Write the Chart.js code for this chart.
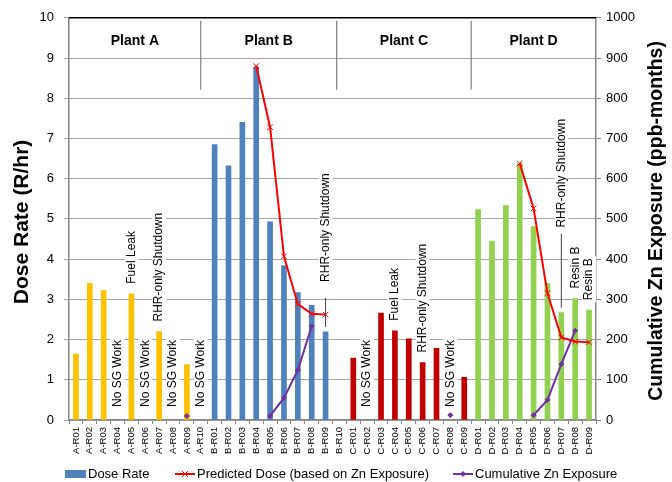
<!DOCTYPE html>
<html>
<head>
<meta charset="utf-8">
<script src="https://cdn.jsdelivr.net/npm/chart.js@4.4.1/dist/chart.umd.min.js"></script>
<style>
  html, body { margin: 0; padding: 0; background: #fff; }
  #wrap { width: 672px; height: 482px; position: relative; }
</style>
</head>
<body>
<div id="wrap"><canvas id="chart"></canvas></div>
<script>
// 類別（各電廠的換料週期）
const categories = [
    'A-R01', 'A-R02', 'A-R03', 'A-R04', 'A-R05', 'A-R06', 'A-R07', 'A-R08', 'A-R09', 'A-R10',
    'B-R01', 'B-R02', 'B-R03', 'B-R04', 'B-R05', 'B-R06', 'B-R07', 'B-R08', 'B-R09', 'B-R10',
    'C-R01', 'C-R02', 'C-R03', 'C-R04', 'C-R05', 'C-R06', 'C-R07', 'C-R08', 'C-R09',
    'D-R01', 'D-R02', 'D-R03', 'D-R04', 'D-R05', 'D-R06', 'D-R07', 'D-R08', 'D-R09'
];

// 劑量率 (R/hr)
const doseRate = [
    1.64, 3.40, 3.22, null, 3.14, null, 2.20, null, 1.38, null,
    6.85, 6.32, 7.40, 8.78, 4.93, 3.84, 3.17, 2.85, 2.19, null,
    1.54, null, 2.66, 2.22, 2.02, 1.43, 1.78, null, 1.06,
    5.23, 4.45, 5.33, 6.38, 4.81, 3.40, 2.67, 3.02, 2.73
];

// 預測劑量 (R/hr)
const predictedDose = [
    null, null, null, null, null, null, null, null, null, null,
    null, null, null, 8.80, 7.28, 4.07, 2.88, 2.64, 2.62, null,
    null, null, null, null, null, null, null, null, null,
    null, null, null, 6.38, 5.26, 3.15, 2.05, 1.95, 1.93
];

// 累計鋅暴露 (ppb-months)
const cumulativeZn = [
    null, null, null, null, null, null, null, null, 10, null,
    null, null, null, null, 10, 55, 124, 233, null, null,
    null, null, null, null, null, null, null, 12, null,
    null, null, null, null, 12, 50, 139, 222, null
];

const plantNames = ['Plant A', 'Plant B', 'Plant C', 'Plant D'];

// 註記文字
const annotations = [
    ['A-R04', 'No SG Work'],
    ['A-R05', 'Fuel Leak'],
    ['A-R06', 'No SG Work'],
    ['A-R07', 'RHR-only Shutdown'],
    ['A-R08', 'No SG Work'],
    ['A-R10', 'No SG Work'],
    ['B-R09', 'RHR-only Shutdown'],
    ['C-R02', 'No SG Work'],
    ['C-R04', 'Fuel Leak'],
    ['C-R06', 'RHR-only Shutdown'],
    ['C-R08', 'No SG Work'],
    ['D-R07', 'RHR-only Shutdown'],
    ['D-R08', 'Resin B'],
    ['D-R09', 'Resin B']
];

const FONT = '"Liberation Sans", Arial, sans-serif';
const plantColors = { A: '#FFC000', B: '#4F81BD', C: '#C00000', D: '#92D050' };

// 有引線的註記：文字抬高量與引線範圍（相對於柱頂）
const annotationLift = {
    'B-R09': { text: 50, from: 34, to: 5 },
    'D-R07': { text: 85, from: 79, to: 5 }
};

// 電廠分隔線位置（類別索引）
const dividerIndex = [9, 18.8, 28.5];

const overlayPlugin = {
    id: 'overlay',
    afterDatasetsDraw(chart) {
        const ctx = chart.ctx;
        const area = chart.chartArea;
        const x = chart.scales.x;
        const y = chart.scales.y;

        ctx.save();

        // 上框線
        ctx.strokeStyle = '#000';
        ctx.lineWidth = 1.5;
        ctx.beginPath();
        ctx.moveTo(area.left, area.top);
        ctx.lineTo(area.right, area.top);
        ctx.stroke();

        // 電廠分隔線與標題
        const divX = dividerIndex.map(d => x.getPixelForValue(d));
        ctx.strokeStyle = '#808080';
        ctx.lineWidth = 1.2;
        divX.forEach(px => {
            ctx.beginPath();
            ctx.moveTo(px, area.top + 3);
            ctx.lineTo(px, area.top + 72);
            ctx.stroke();
        });
        const edges = [area.left, ...divX, area.right];
        ctx.fillStyle = '#000';
        ctx.font = 'bold 14px ' + FONT;
        ctx.textAlign = 'center';
        ctx.textBaseline = 'middle';
        plantNames.forEach((name, i) => {
            ctx.fillText(name, (edges[i] + edges[i + 1]) / 2, area.top + 23);
        });

        // 註記
        ctx.font = '12px ' + FONT;
        annotations.forEach(([cat, text]) => {
            const i = categories.indexOf(cat);
            const cx = x.getPixelForValue(i);
            const v = doseRate[i];
            const lift = annotationLift[cat];
            let bottom;
            if (v == null) {
                bottom = y.getPixelForValue(0) - 13;
            } else if (lift) {
                bottom = y.getPixelForValue(v) - lift.text;
            } else {
                bottom = y.getPixelForValue(v) - 10;
            }
            const w = ctx.measureText(text).width;
            ctx.save();
            ctx.translate(cx, bottom);
            ctx.rotate(-Math.PI / 2);
            ctx.fillStyle = '#fff';
            ctx.fillRect(-2, -7, w + 4, 14);
            ctx.fillStyle = '#000';
            ctx.textAlign = 'left';
            ctx.textBaseline = 'middle';
            ctx.fillText(text, 0, 0);
            ctx.restore();

            if (lift) {
                const top = y.getPixelForValue(v);
                ctx.strokeStyle = '#404040';
                ctx.lineWidth = 1;
                ctx.beginPath();
                ctx.moveTo(cx, top - lift.from);
                ctx.lineTo(cx, top - lift.to);
                ctx.stroke();
            }
        });

        ctx.restore();
    },
    afterDraw(chart) {
        const ctx = chart.ctx;
        const area = chart.chartArea;
        const midY = (area.top + area.bottom) / 2;

        ctx.save();
        ctx.fillStyle = '#000';
        ctx.textAlign = 'center';
        ctx.textBaseline = 'middle';

        // 軸標題
        ctx.font = 'bold 21px ' + FONT;
        ctx.save();
        ctx.translate(22, midY + 3);
        ctx.rotate(-Math.PI / 2);
        ctx.fillText('Dose Rate (R/hr)', 0, 0);
        ctx.restore();

        ctx.font = 'bold 19.5px ' + FONT;
        ctx.save();
        ctx.translate(657, midY + 2);
        ctx.rotate(-Math.PI / 2);
        ctx.fillText('Cumulative Zn Exposure (ppb-months)', 0, 0);
        ctx.restore();

        // 圖例
        const ly = 474;
        ctx.font = '13px ' + FONT;
        ctx.textAlign = 'left';

        ctx.fillStyle = '#4F81BD';
        ctx.fillRect(65, ly - 4, 21, 8);
        ctx.fillStyle = '#000';
        ctx.fillText('Dose Rate', 88, ly);

        ctx.strokeStyle = '#FF0000';
        ctx.lineWidth = 2;
        ctx.beginPath();
        ctx.moveTo(175, ly);
        ctx.lineTo(195, ly);
        ctx.stroke();
        ctx.lineWidth = 1;
        Chart.helpers.drawPoint(ctx, { pointStyle: 'crossRot', radius: 4, rotation: 0, borderWidth: 1 }, 185, ly);
        ctx.fillText('Predicted Dose (based on Zn Exposure)', 197, ly);

        ctx.strokeStyle = '#7030A0';
        ctx.fillStyle = '#7030A0';
        ctx.lineWidth = 2;
        ctx.beginPath();
        ctx.moveTo(453, ly);
        ctx.lineTo(473, ly);
        ctx.stroke();
        ctx.lineWidth = 1;
        Chart.helpers.drawPoint(ctx, { pointStyle: 'rectRot', radius: 2.5, rotation: 0, borderWidth: 1 }, 463, ly);
        ctx.fillStyle = '#000';
        ctx.fillText('Cumulative Zn Exposure', 475, ly);

        ctx.restore();
    }
};

const ctx = document.getElementById('chart').getContext('2d');
new Chart(ctx, {
    type: 'bar',
    data: {
        labels: categories,
        datasets: [
            {
                type: 'line',
                label: 'Predicted Dose (based on Zn Exposure)',
                data: predictedDose,
                yAxisID: 'y',
                borderColor: '#FF0000',
                backgroundColor: '#FF0000',
                borderWidth: 2,
                pointStyle: 'crossRot',
                pointRadius: 4,
                pointBorderWidth: 1,
                spanGaps: false,
                tension: 0,
                order: 1
            },
            {
                type: 'line',
                label: 'Cumulative Zn Exposure',
                data: cumulativeZn,
                yAxisID: 'y2',
                borderColor: '#7030A0',
                backgroundColor: '#7030A0',
                borderWidth: 2,
                pointStyle: 'rectRot',
                pointRadius: 2.5,
                pointBorderWidth: 1,
                spanGaps: false,
                tension: 0,
                order: 2
            },
            {
                label: 'Dose Rate',
                data: doseRate,
                yAxisID: 'y',
                backgroundColor: categories.map(c => plantColors[c[0]]),
                barThickness: 5,
                order: 3
            }
        ]
    },
    options: {
        responsive: true,
        maintainAspectRatio: false,
        animation: false,
        layout: { padding: { top: 17, left: 0, right: 0, bottom: 0 } },
        plugins: {
            legend: { display: false },
            tooltip: { enabled: false }
        },
        scales: {
            x: {
                offset: true,
                grid: { drawOnChartArea: false, offset: true, tickLength: 4, color: '#868686' },
                border: { color: '#868686', width: 1.5 },
                ticks: {
                    autoSkip: false,
                    minRotation: 90,
                    maxRotation: 90,
                    padding: 3,
                    color: '#000',
                    font: { family: FONT, size: 9.5 }
                },
                afterFit: s => { s.height = 62; }
            },
            y: {
                position: 'left',
                min: 0,
                max: 10,
                grid: { color: '#a6a6a6', tickLength: 5 },
                border: { color: '#868686', width: 1.5 },
                ticks: {
                    stepSize: 1,
                    padding: 10,
                    color: '#000',
                    font: { family: FONT, size: 13 }
                },
                afterFit: s => { s.width = 69; }
            },
            y2: {
                position: 'right',
                min: 0,
                max: 1000,
                grid: { drawOnChartArea: false, color: '#868686', tickLength: 5 },
                border: { color: '#868686', width: 1.5 },
                ticks: {
                    stepSize: 100,
                    padding: 5,
                    color: '#000',
                    font: { family: FONT, size: 13 },
                    callback: value => String(value)
                },
                afterFit: s => { s.width = 76; }
            }
        }
    },
    plugins: [overlayPlugin]
});
</script>
</body>
</html>
